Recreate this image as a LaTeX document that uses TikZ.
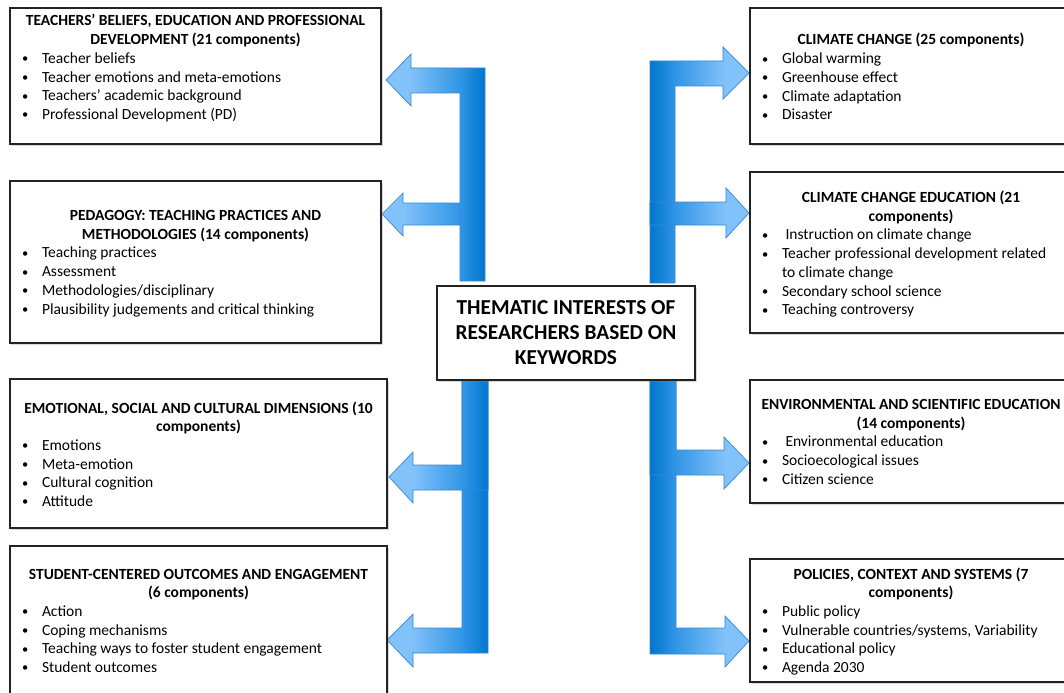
\documentclass[tikz,border=0pt]{standalone}
\usepackage{fontspec}
\setmainfont{Carlito}
\usetikzlibrary{shadows,backgrounds}
\definecolor{aLight}{RGB}{130,194,250}
\definecolor{aMid}{RGB}{50,150,230}
\definecolor{aDark}{RGB}{0,118,206}
\definecolor{aLine}{RGB}{55,135,212}
\definecolor{boxLine}{RGB}{35,35,35}
\pgfdeclarehorizontalshading{blockarrow}{100bp}{color(0bp)=(aLight); color(37bp)=(aLight); color(62bp)=(aMid); color(75bp)=(aDark); color(100bp)=(aDark)}
\pgfdeclarehorizontalshading{blockarrowshort}{100bp}{color(0bp)=(aLight); color(38bp)=(aLight); color(75bp)=(aMid); color(100bp)=(aMid)}
\newcommand\itm[1]{\par\noindent\hangindent=22bp\hangafter=1\makebox[22bp][l]{\hspace{2bp}\raisebox{0.6bp}{\fontsize{12.5bp}{12.5bp}\selectfont\textbullet}}#1}
\newcommand\hdr[1]{{\centering\bfseries #1\par}}
\newcommand\boxtext[2]{\parbox[t]{#1}{\fontsize{15.5bp}{18.7bp}\selectfont #2}}
\tikzset{
  catbox/.style={draw=boxLine, line width=1.1bp, fill=white, rectangle, inner sep=0pt,
    drop shadow={shadow xshift=1.5bp, shadow yshift=-2bp, opacity=0.3}},
  txt/.style={anchor=base west, inner sep=0pt, outer sep=0pt},
  barrow/.style={draw=aLine, line width=0.7bp, shading=blockarrow},
  barrowshort/.style={draw=aLine, line width=0.7bp, shading=blockarrowshort},
  barrowR/.style={barrow, shading angle=180},
}
\begin{document}
\begin{tikzpicture}[x=1bp, y=-1bp]
\clip (0,0) rectangle (1064,693);
% boxes
\node[catbox, minimum width=371bp, minimum height=136bp] (L1) at (195.5,76) {};
\node[catbox, minimum width=371bp, minimum height=162bp] (L2) at (195.5,262) {};
\node[catbox, minimum width=377bp, minimum height=149bp] (L3) at (198.5,453.5) {};
\node[catbox, minimum width=377bp, minimum height=159bp] (L4) at (198.5,625.5) {};
\node[catbox, minimum width=322bp, minimum height=136bp] (R1) at (911,76) {};
\node[catbox, minimum width=322bp, minimum height=161bp] (R2) at (911,252.5) {};
\node[catbox, minimum width=322bp, minimum height=123bp] (R3) at (911,441.5) {};
\node[catbox, minimum width=322bp, minimum height=123bp] (R4) at (911,620.5) {};
\node[catbox, minimum width=258bp, minimum height=94bp, align=center,
  font=\fontsize{21.3bp}{25bp}\selectfont\bfseries] (C) at (566,333)
  {THEMATIC INTERESTS OF\\RESEARCHERS BASED ON\\KEYWORDS};
% texts
\node[txt] (L1t) at (20,26) {\boxtext{351bp}{%
  \hdr{TEACHERS' BELIEFS, EDUCATION AND PROFESSIONAL\\DEVELOPMENT (21 components)}%
  \itm{Teacher beliefs}\itm{Teacher emotions and meta-emotions}%
  \itm{Teachers' academic background}\itm{Professional Development (PD)}}};
\node[txt] (L2t) at (20,220.5) {\boxtext{351bp}{%
  \hdr{PEDAGOGY: TEACHING PRACTICES AND\\METHODOLOGIES (14 components)}%
  \itm{Teaching practices}\itm{Assessment}%
  \itm{Methodologies/disciplinary}\itm{Plausibility judgements and critical thinking}}};
\node[txt] (L3t) at (20,413) {\boxtext{357bp}{%
  \hdr{EMOTIONAL, SOCIAL AND CULTURAL DIMENSIONS (10\\components)}%
  \itm{Emotions}\itm{Meta-emotion}\itm{Cultural cognition}\itm{Attitude}}};
\node[txt] (L4t) at (20,579) {\boxtext{357bp}{%
  \hdr{STUDENT-CENTERED OUTCOMES AND ENGAGEMENT\\(6 components)}%
  \itm{Action}\itm{Coping mechanisms}%
  \itm{Teaching ways to foster student engagement}\itm{Student outcomes}}};
\node[txt] (R1t) at (760,45) {\boxtext{302bp}{%
  \hdr{CLIMATE CHANGE (25 components)}%
  \itm{Global warming}\itm{Greenhouse effect}\itm{Climate adaptation}\itm{Disaster}}};
\node[txt] (R2t) at (760,202.5) {\boxtext{302bp}{%
  \hdr{CLIMATE CHANGE EDUCATION (21\\components)}%
  \itm{\hspace{3.5bp}Instruction on climate change}%
  \itm{Teacher professional development related\newline to climate change}%
  \itm{Secondary school science}\itm{Teaching controversy}}};
\node[txt] (R3t) at (760,409.5) {\boxtext{302bp}{%
  \hdr{ENVIRONMENTAL AND SCIENTIFIC EDUCATION\\(14 components)}%
  \itm{\hspace{3.5bp}Environmental education}\itm{Socioecological issues}\itm{Citizen science}}};
\node[txt] (R4t) at (760,579) {\boxtext{302bp}{%
  \hdr{POLICIES, CONTEXT AND SYSTEMS (7\\components)}%
  \itm{Public policy}\itm{Vulnerable countries/systems, Variability}%
  \itm{Educational policy}\itm{Agenda 2030}}};
% block arrows
\begin{scope}[on background layer]
\fill[white] (0,0) rectangle (1064,693);
\path[barrowshort] (382,214) -- (403,193) -- (403,203) -- (460,203) -- (460,225) -- (403,225) -- (403,236) -- cycle;
\path[barrow] (386,80) -- (411,54) -- (411,68) -- (485,68) -- (485,281) -- (460,281) -- (460,93) -- (411,93) -- (411,106) -- cycle;
\path[barrow] (387,640) -- (413,614) -- (413,628) -- (462,628) -- (462,379) -- (488,379) -- (488,653) -- (413,653) -- (413,667) -- cycle;
\path[barrow] (389,477) -- (413,452) -- (413,465) -- (462,465) -- (462,379) -- (488,379) -- (488,490) -- (413,490) -- (413,503) -- cycle;
\path[barrowR] (749,73) -- (723,47) -- (723,61) -- (650,61) -- (650,283) -- (675,283) -- (675,86) -- (723,86) -- (723,99) -- cycle;
\path[barrowR] (749,213) -- (726,188) -- (726,202) -- (650,202) -- (650,225) -- (726,225) -- (726,238) -- cycle;
\path[barrowR] (749,641) -- (725,616) -- (725,628) -- (676,628) -- (676,379) -- (650,379) -- (650,654) -- (725,654) -- (725,667) -- cycle;
\path[barrowR] (749,463) -- (724,437) -- (724,450) -- (676,450) -- (676,379) -- (650,379) -- (650,475) -- (724,475) -- (724,489) -- cycle;
\end{scope}
\end{tikzpicture}
\end{document}
